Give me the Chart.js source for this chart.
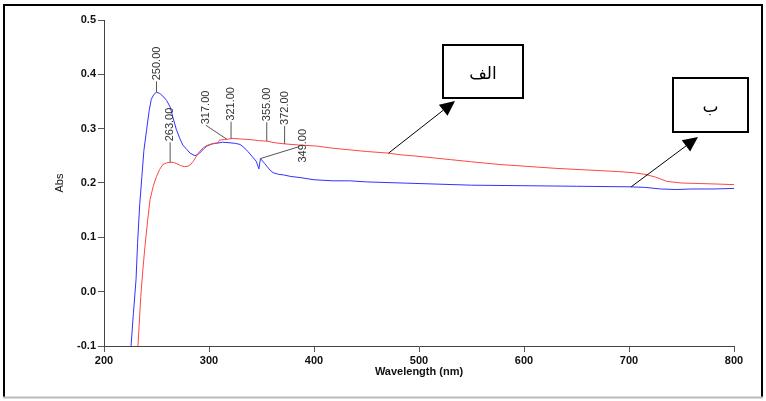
<!DOCTYPE html>
<html>
<head>
<meta charset="utf-8">
<script src="https://cdn.jsdelivr.net/npm/chart.js@4.4.1/dist/chart.umd.min.js"></script>
<style>
  html, body { margin: 0; padding: 0; background: #fff; }
  canvas { display: block; }
</style>
</head>
<body>
<canvas id="uvChart" width="766" height="401"></canvas>
<script>
// Spectrum "ب" (blue)
const blueWavelengths = [225, 228, 230.5, 232, 234, 236, 238, 240.6, 243, 245, 247.5, 250, 253, 256, 259.6, 263, 266, 269, 272, 275, 278.7, 282, 286.7, 291, 295, 298, 303, 307, 313, 320, 325, 329.5, 333, 337, 341, 345, 347.5, 349, 353, 355, 358, 361, 366, 370.6, 378, 386.7, 400, 418, 434, 450, 500, 550, 600, 650, 700, 715, 730, 745, 760, 780, 800];
const blueAbs = [-0.12, -0.04, 0.022, 0.09, 0.16, 0.21, 0.26, 0.298, 0.333, 0.354, 0.363, 0.367, 0.365, 0.36, 0.352, 0.34, 0.318, 0.298, 0.283, 0.27, 0.262, 0.255, 0.25, 0.255, 0.263, 0.268, 0.272, 0.273, 0.275, 0.274, 0.273, 0.271, 0.266, 0.258, 0.249, 0.24, 0.226, 0.245, 0.236, 0.231, 0.224, 0.219, 0.216, 0.215, 0.212, 0.21, 0.206, 0.204, 0.204, 0.202, 0.199, 0.196, 0.195, 0.194, 0.193, 0.192, 0.189, 0.188, 0.189, 0.189, 0.19];

// Spectrum "الف" (red)
const redWavelengths = [231, 232.4, 235, 237, 239, 241.5, 243.8, 247, 250, 253, 256, 259.5, 263, 266, 269, 273, 277, 280, 282, 285, 288, 291, 294.6, 298, 301, 305, 308.6, 310, 315, 323, 330, 339, 347, 355, 363, 372, 385, 402.5, 418, 434, 450, 471, 482, 500, 530, 550, 577, 600, 630, 660, 690, 704, 715, 725, 736, 750, 768, 785, 800];
const redAbs = [-0.13, -0.098, -0.009, 0.04, 0.083, 0.13, 0.169, 0.195, 0.212, 0.225, 0.234, 0.237, 0.238, 0.238, 0.236, 0.232, 0.23, 0.231, 0.233, 0.24, 0.249, 0.258, 0.265, 0.269, 0.271, 0.273, 0.274, 0.279, 0.28, 0.282, 0.281, 0.28, 0.278, 0.277, 0.274, 0.272, 0.27, 0.268, 0.264, 0.261, 0.258, 0.255, 0.252, 0.249, 0.243, 0.239, 0.234, 0.231, 0.227, 0.224, 0.221, 0.219, 0.216, 0.211, 0.203, 0.2, 0.199, 0.198, 0.197];

// Axis ticks
const xTicks = [200, 300, 400, 500, 600, 700, 800];
const yTicks = [-0.1, 0.0, 0.1, 0.2, 0.3, 0.4, 0.5];

// Peak markers
const peakWavelengths = [250, 263, 317, 321, 355, 372, 349];
const peakLabels = ['250.00', '263.00', '317.00', '321.00', '355.00', '372.00', '349.00'];
const peakSeries = ['blue', 'red', 'red', 'red', 'red', 'red', 'blue'];

// Callouts naming the curves
const calloutLabels = ['الف', 'ب'];
const calloutWavelengths = [471, 702];
const calloutSeries = ['red', 'blue'];

const seriesData = {
  blue: [blueWavelengths, blueAbs],
  red: [redWavelengths, redAbs]
};

function toPoints(xs, ys) {
  return xs.map((x, i) => ({ x: x, y: ys[i] }));
}

// value of a series at a wavelength (linear between readings)
function valueAt(series, wl) {
  const [xs, ys] = seriesData[series];
  for (let i = 1; i < xs.length; i++) {
    if (wl <= xs[i]) {
      const t = (wl - xs[i - 1]) / (xs[i] - xs[i - 1]);
      return ys[i - 1] + t * (ys[i] - ys[i - 1]);
    }
  }
  return ys[ys.length - 1];
}

// leader end offset and text start offset for each peak label (pixels)
const peakStyle = [
  { lx: 0, ly: -11, tx: 0, ty: -12 },
  { lx: 0, ly: -20, tx: 0, ty: -21 },
  { lx: -21, ly: -14, tx: -21, ty: -15 },
  { lx: 0, ly: -17, tx: 0, ty: -18 },
  { lx: 0, ly: -19, tx: 0, ty: -20 },
  { lx: 0, ly: -18, tx: 0, ty: -19 },
  { lx: 39, ly: -12, tx: 43, ty: 4 }
];

// callout boxes (pixels) and arrow tips
const calloutStyle = [
  { box: [443, 45, 80, 53], tip: [455, 101] },
  { box: [673, 78, 75, 54], tip: [698, 137] }
];

const annotations = {
  id: 'annotations',
  beforeDraw(chart) {
    const ctx = chart.ctx;
    ctx.save();
    ctx.fillStyle = '#fff';
    ctx.fillRect(0, 0, chart.width, chart.height);
    ctx.restore();
  },
  afterDraw(chart) {
    const ctx = chart.ctx;
    const xs = chart.scales.x, ys = chart.scales.y;
    ctx.save();

    // peak leaders and rotated labels
    ctx.strokeStyle = '#555';
    ctx.lineWidth = 1;
    ctx.fillStyle = '#333';
    ctx.font = '11px "Liberation Sans", Arial, sans-serif';
    peakWavelengths.forEach((wl, i) => {
      const px = xs.getPixelForValue(wl);
      const py = ys.getPixelForValue(valueAt(peakSeries[i], wl));
      const s = peakStyle[i];
      ctx.beginPath();
      ctx.moveTo(px, py);
      ctx.lineTo(px + s.lx, py + s.ly);
      ctx.stroke();
      ctx.save();
      ctx.translate(px + s.tx, py + s.ty);
      ctx.rotate(-Math.PI / 2);
      ctx.textAlign = 'left';
      ctx.textBaseline = 'middle';
      ctx.fillText(peakLabels[i], 0, 0);
      ctx.restore();
    });

    // callout boxes with arrows
    calloutLabels.forEach((label, i) => {
      const st = calloutStyle[i];
      const sx = xs.getPixelForValue(calloutWavelengths[i]);
      const sy = ys.getPixelForValue(valueAt(calloutSeries[i], calloutWavelengths[i]));
      const [tx, ty] = st.tip;
      const ang = Math.atan2(ty - sy, tx - sx);
      const len = 15, half = 7;
      const bx = tx - len * Math.cos(ang), by = ty - len * Math.sin(ang);
      ctx.strokeStyle = '#000';
      ctx.lineWidth = 1;
      ctx.beginPath();
      ctx.moveTo(sx, sy);
      ctx.lineTo(bx, by);
      ctx.stroke();
      ctx.fillStyle = '#000';
      ctx.beginPath();
      ctx.moveTo(tx, ty);
      ctx.lineTo(bx + half * Math.sin(ang), by - half * Math.cos(ang));
      ctx.lineTo(bx - half * Math.sin(ang), by + half * Math.cos(ang));
      ctx.closePath();
      ctx.fill();

      const [x0, y0, w, h] = st.box;
      ctx.fillStyle = '#fff';
      ctx.fillRect(x0, y0, w, h);
      ctx.lineWidth = 2;
      ctx.strokeRect(x0, y0, w, h);
      ctx.fillStyle = '#000';
      ctx.font = '17px "DejaVu Sans", sans-serif';
      ctx.textAlign = 'center';
      ctx.textBaseline = 'middle';
      ctx.fillText(label, x0 + w / 2, y0 + h / 2 + 3);
    });

    // outer frame
    ctx.lineWidth = 2;
    ctx.strokeStyle = '#000';
    ctx.beginPath();
    ctx.moveTo(4, 397);
    ctx.lineTo(4, 5);
    ctx.lineTo(762, 5);
    ctx.lineTo(762, 397);
    ctx.stroke();
    ctx.strokeStyle = '#bbb';
    ctx.beginPath();
    ctx.moveTo(3, 397.5);
    ctx.lineTo(763, 397.5);
    ctx.stroke();
    ctx.restore();
  }
};

const tickFont = { family: '"Liberation Sans", Arial, sans-serif', size: 11, weight: 'bold' };

new Chart(document.getElementById('uvChart').getContext('2d'), {
  type: 'line',
  data: {
    datasets: [{
      label: 'الف',
      data: toPoints(redWavelengths, redAbs),
      borderColor: 'rgb(255, 70, 70)',
      borderWidth: 1,
      pointRadius: 0,
      tension: 0,
      clip: 0
    }, {
      label: 'ب',
      data: toPoints(blueWavelengths, blueAbs),
      borderColor: 'rgb(50, 50, 255)',
      borderWidth: 1,
      pointRadius: 0,
      tension: 0,
      clip: 0
    }]
  },
  options: {
    responsive: false,
    animation: false,
    layout: { padding: { left: 53, right: 32, top: 20, bottom: 22 } },
    plugins: {
      legend: { display: false },
      tooltip: { enabled: false }
    },
    scales: {
      x: {
        type: 'linear',
        min: 200,
        max: 800,
        afterFit: (s) => { s.height = 33; },
        afterBuildTicks: (s) => { s.ticks = xTicks.map(v => ({ value: v })); },
        grid: { drawOnChartArea: false, tickLength: 6, color: '#555' },
        border: { color: '#444', width: 1 },
        ticks: { font: tickFont, color: '#111', padding: 2, maxRotation: 0 },
        title: { display: true, text: 'Wavelength (nm)', font: tickFont, color: '#111', padding: 0 }
      },
      y: {
        min: -0.1,
        max: 0.5,
        afterFit: (s) => { s.width = 51; },
        afterBuildTicks: (s) => { s.ticks = yTicks.map(v => ({ value: v })); },
        grid: { drawOnChartArea: false, tickLength: 6, color: '#555' },
        border: { color: '#444', width: 1 },
        ticks: { font: tickFont, color: '#111', padding: 2, callback: (v) => v.toFixed(1) },
        title: { display: true, text: 'Abs', font: { family: '"Liberation Sans", Arial, sans-serif', size: 11 }, color: '#111', padding: 0 }
      }
    }
  },
  plugins: [annotations]
});
</script>
</body>
</html>
